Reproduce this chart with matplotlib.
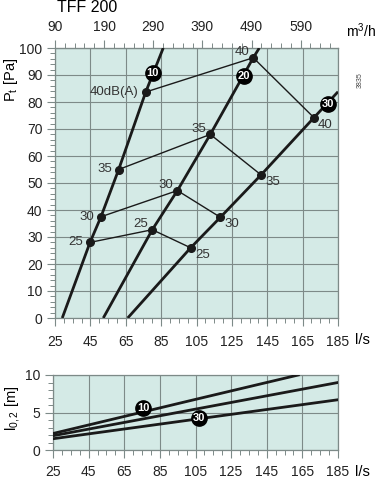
import matplotlib
matplotlib.use('Agg')
import matplotlib.pyplot as plt
from matplotlib.ticker import MultipleLocator, FixedLocator

plt.rcParams['font.family'] = ['Liberation Sans', 'DejaVu Sans']
plt.rcParams['mathtext.default'] = 'regular'

# pressure curves (l/s -> Pa) for damper settings 10 / 20 / 30
curve_10_q = [29.1, 44.8, 51.0, 61.0, 76.3, 86.2]
curve_10_p = [0, 28.0, 37.5, 55.0, 83.7, 100]
curve_20_q = [52.3, 80.0, 94.2, 112.8, 137.1, 140.5]
curve_20_p = [0, 32.7, 47.2, 68.0, 96.4, 100]
curve_30_q = [66.1, 101.7, 118.5, 141.5, 171.4, 185]
curve_30_p = [0, 26.0, 37.3, 53.0, 74.2, 83.8]

# sound level lines dB(A), one point on each curve (10, 20, 30)
sound_levels = [25, 30, 35, 40]
sound_q = [[44.8, 80.0, 101.7], [51.0, 94.2, 118.5], [61.0, 112.8, 141.5], [76.3, 137.1, 171.4]]
sound_p = [[28.0, 32.7, 26.0], [37.5, 47.2, 37.3], [55.0, 68.0, 53.0], [83.7, 96.4, 74.2]]

curve_tags = ['10', '20', '30']
curve_tag_q = [80.2, 131.7, 179.2]
curve_tag_p = [90.6, 89.6, 79.3]

# throw l0,2 (m)
throw_10_q = [25, 105, 162.7]
throw_10_l = [2.2, 6.75, 10.0]
throw_20_q = [25, 185]
throw_20_l = [1.9, 9.0]
throw_30_q = [25, 185]
throw_30_l = [1.5, 6.7]
throw_tags = ['10', '30']
throw_tag_q = [75.8, 107.2]
throw_tag_l = [5.6, 4.25]

q_ticks = [25, 45, 65, 85, 105, 125, 145, 165, 185]
m3h_ticks = [90, 190, 290, 390, 490, 590]

BG = '#d4eae6'
GRID = '#7d8a88'
W, H = 380, 480


def px_axes(fig, left, top, right, bottom):
    return fig.add_axes([left / W, 1 - bottom / H, (right - left) / W, (bottom - top) / H])


def style_axes(ax):
    ax.set_facecolor(BG)
    for s in ax.spines.values():
        s.set_color(GRID)
        s.set_linewidth(0.9)
    ax.grid(True, which='major', color=GRID, linewidth=0.8)
    ax.set_axisbelow(True)
    ax.tick_params(which='both', direction='out', color=GRID, labelsize=10, labelcolor='#222222')
    ax.tick_params(which='major', length=6, width=0.8)
    ax.tick_params(which='minor', length=3.5, width=0.7)
    ax.set_xlim(25, 185)
    ax.set_xticks(q_ticks)
    ax.xaxis.set_minor_locator(MultipleLocator(5))


def draw_tag(ax, q, v, text):
    ax.plot(q, v, 'o', ms=11, color='black', zorder=6)
    ax.text(q, v, text, color='white', ha='center', va='center', fontsize=8,
            fontweight='bold', zorder=7)


fig = plt.figure(figsize=(W / 100, H / 100), dpi=100)

# main pressure chart
ax = px_axes(fig, 55, 48, 338, 318)
style_axes(ax)
ax.set_ylim(0, 100)
ax.yaxis.set_major_locator(MultipleLocator(10))
ax.yaxis.set_minor_locator(MultipleLocator(2))
ax.tick_params(axis='x', pad=6)
ax.tick_params(axis='y', pad=3)

for q, p in [(curve_10_q, curve_10_p), (curve_20_q, curve_20_p), (curve_30_q, curve_30_p)]:
    ax.plot(q, p, color='#1a1a1a', lw=2.0, solid_capstyle='butt', zorder=3, clip_on=True)

for lvl, q, p in zip(sound_levels, sound_q, sound_p):
    ax.plot(q, p, color='#1a1a1a', lw=1.0, zorder=4)
    ax.plot(q, p, 'o', color='#1a1a1a', ms=5.5, zorder=5)
    left = '40dB(A)' if lvl == 40 else str(lvl)
    ax.annotate(left, (q[0], p[0]), xytext=(-5, 0), textcoords='offset points',
                ha='right', va='center', fontsize=9.5, color='#333333')
    ax.annotate(str(lvl), (q[1], p[1]), xytext=(-3, 4), textcoords='offset points',
                ha='right', va='center', fontsize=9.5, color='#333333')
    ax.annotate(str(lvl), (q[2], p[2]), xytext=(3, -5), textcoords='offset points',
                ha='left', va='center', fontsize=9.5, color='#333333')

for t, q, p in zip(curve_tags, curve_tag_q, curve_tag_p):
    draw_tag(ax, q, p, t)

top = ax.secondary_xaxis('top', functions=(lambda x: x * 3.6, lambda x: x / 3.6))
top.xaxis.set_major_locator(FixedLocator(m3h_ticks))
top.xaxis.set_minor_locator(FixedLocator(list(range(90, 670, 20))))
top.tick_params(which='both', direction='out', color=GRID, labelsize=10, labelcolor='#222222', pad=4)
top.tick_params(which='major', length=6, width=0.8)
top.tick_params(which='minor', length=3.5, width=0.7)
top.spines['top'].set_color(GRID)

fig.text(11 / W, 1 - 80 / H, 'P$_t$ [Pa]', rotation=90, ha='center', va='center', fontsize=10.5)
fig.text(346 / W, 1 - 31 / H, 'm$^3$/h', ha='left', va='center', fontsize=10)
fig.text(355 / W, 1 - 340 / H, 'l/s', ha='left', va='center', fontsize=10.5)
fig.text(360 / W, 1 - 80 / H, '3835', rotation=90, ha='center', va='center', fontsize=5, color='#444444')
fig.text(57 / W, 1 - 7 / H, 'TFF 200', ha='left', va='center', fontsize=11.5)

# throw chart
ax2 = px_axes(fig, 53, 375, 338, 450)
style_axes(ax2)
ax2.set_ylim(0, 10)
ax2.set_yticks([0, 5, 10])
ax2.yaxis.set_minor_locator(MultipleLocator(1))
ax2.tick_params(axis='x', pad=5)
ax2.tick_params(axis='y', pad=3)
for q, l in [(throw_10_q, throw_10_l), (throw_20_q, throw_20_l), (throw_30_q, throw_30_l)]:
    ax2.plot(q, l, color='#1a1a1a', lw=2.0, zorder=3)
for t, q, l in zip(throw_tags, throw_tag_q, throw_tag_l):
    draw_tag(ax2, q, l, t)

fig.text(13 / W, 1 - 408 / H, 'l$_{0,2}$ [m]', rotation=90, ha='center', va='center', fontsize=10.5)
fig.text(355 / W, 1 - 472 / H, 'l/s', ha='left', va='center', fontsize=10.5)

fig.savefig('out.png', dpi=100)
